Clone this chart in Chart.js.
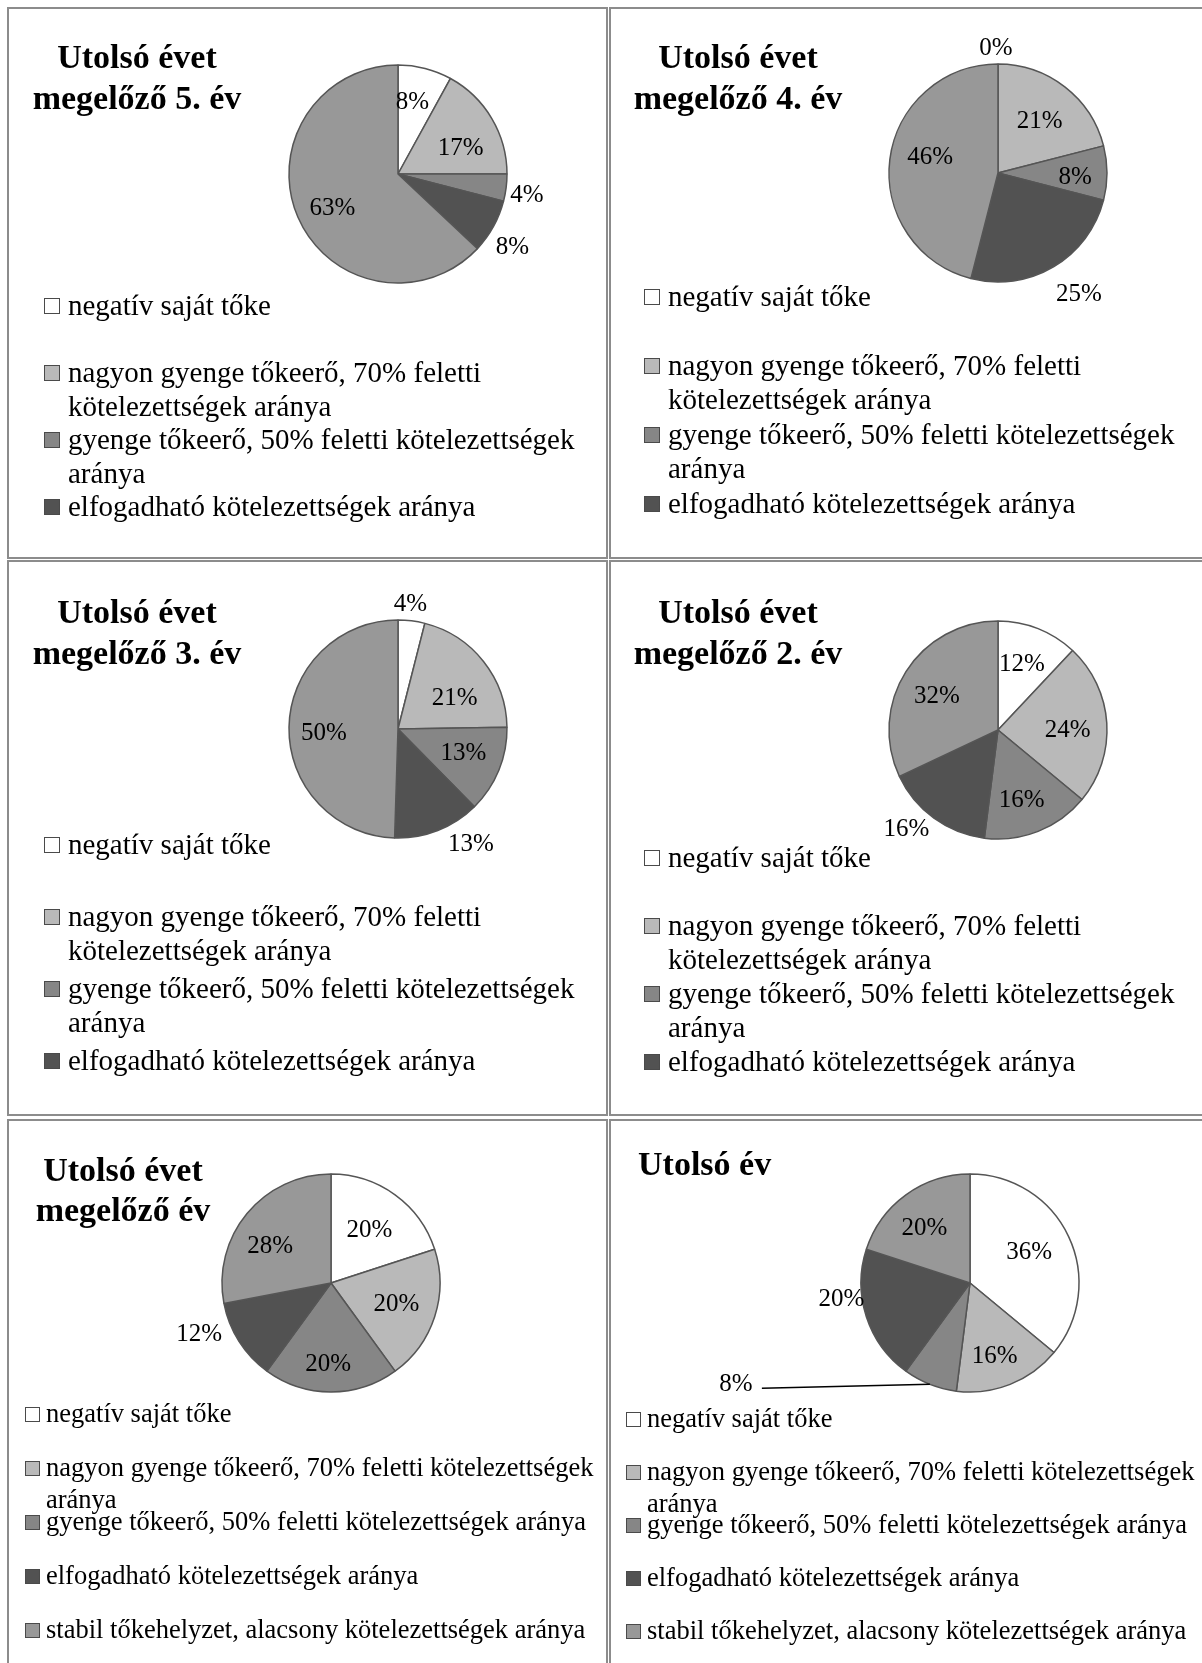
<!DOCTYPE html>
<html lang="hu">
<head>
<meta charset="utf-8">
<title>Tőkehelyzet megoszlása</title>
<script src="https://cdn.jsdelivr.net/npm/chart.js@4.4.1/dist/chart.umd.min.js"></script>
<style>
  html, body { margin: 0; padding: 0; background: #fff; }
  body { position: relative; width: 1202px; height: 1663px; overflow: hidden;
         font-family: "Liberation Serif", "Times New Roman", serif; color: #000; }
  .cell { position: absolute; box-sizing: border-box; border: 2px solid #8c8c8c; }
  canvas { position: absolute; }
  .title { position: absolute; font-weight: bold; font-size: 34px; white-space: nowrap; }
  .legend { position: absolute; }
  .item { display: flex; align-items: flex-start; overflow: visible; }
  .box { flex: none; box-sizing: border-box; border: 1px solid #4a4a4a; }
</style>
</head>
<body>
<div class="cell" style="left:7px;top:7px;width:601px;height:552px"></div>
<div class="cell" style="left:609px;top:7px;width:600px;height:552px"></div>
<div class="cell" style="left:7px;top:560px;width:601px;height:556px"></div>
<div class="cell" style="left:609px;top:560px;width:600px;height:556px"></div>
<div class="cell" style="left:7px;top:1119px;width:601px;height:560px"></div>
<div class="cell" style="left:609px;top:1119px;width:600px;height:560px"></div>

<script>
// categories (legend order = slice order, clockwise from 12 o'clock)
const categories = [
    'negatív saját tőke',
    'nagyon gyenge tőkeerő, 70% feletti kötelezettségek aránya',
    'gyenge tőkeerő, 50% feletti kötelezettségek aránya',
    'elfogadható kötelezettségek aránya',
    'stabil tőkehelyzet, alacsony kötelezettségek aránya'
]
const sliceColors = ['#ffffff', '#b9b9b9', '#868686', '#525252', '#989898']

// shares in %
const year5 = [8, 17, 4, 8, 63]
const year4 = [0, 21, 8, 25, 46]
const year3 = [4, 21, 13, 13, 50]
const year2 = [12, 24, 16, 16, 32]
const year1 = [20, 20, 20, 12, 28]
const lastYear = [36, 16, 8, 20, 20]

const titles = [
    ['Utolsó évet', 'megelőző 5. év'],
    ['Utolsó évet', 'megelőző 4. év'],
    ['Utolsó évet', 'megelőző 3. év'],
    ['Utolsó évet', 'megelőző 2. év'],
    ['Utolsó évet', 'megelőző év'],
    ['Utolsó év']
]

// draws "xx%" next to / inside every slice
const pctLabels = {
    id: 'pctLabels',
    afterDatasetsDraw(chart, args, opts) {
        const ctx = chart.ctx
        const values = chart.data.datasets[0].data
        const arcs = chart.getDatasetMeta(0).data
        ctx.save()
        ctx.font = opts.font
        ctx.fillStyle = '#000'
        ctx.textAlign = 'center'
        ctx.textBaseline = 'middle'
        arcs.forEach((arc, i) => {
            const p = opts.place[i]
            const { x, y, startAngle, endAngle, outerRadius } =
                arc.getProps(['x', 'y', 'startAngle', 'endAngle', 'outerRadius'], true)
            const mid = (startAngle + endAngle) / 2 + (p.da || 0) * Math.PI / 180
            let lx = x + Math.cos(mid) * outerRadius * p.r
            let ly = y + Math.sin(mid) * outerRadius * p.r
            if (p.leader) {
                const ex = lx, ey = ly
                lx = ex + p.leader
                ctx.beginPath()
                ctx.strokeStyle = '#000'
                ctx.lineWidth = 1.5
                ctx.moveTo(lx + 26, ly + 4)
                ctx.lineTo(ex, ey)
                ctx.stroke()
            }
            ctx.fillText(values[i] + '%', lx, ly)
        })
        ctx.restore()
    }
}

function createPanel(idx, values, cfg)
{
    const [cx0, cy0, cw, ch] = cfg.area
    const canvas = document.createElement('canvas')
    canvas.width = cw
    canvas.height = ch
    canvas.style.left = cx0 + 'px'
    canvas.style.top = cy0 + 'px'
    document.body.appendChild(canvas)

    const [px, py] = cfg.center
    const half = 120

    new Chart(canvas, {
        type: 'pie',
        data: {
            labels: categories,
            datasets: [{
                data: values,
                backgroundColor: sliceColors,
                borderColor: '#555555',
                borderWidth: 1.5,
                radius: 109
            }]
        },
        options: {
            responsive: false,
            animation: false,
            events: [],
            layout: {
                padding: {
                    left: px - cx0 - half,
                    right: cx0 + cw - px - half,
                    top: py - cy0 - half,
                    bottom: cy0 + ch - py - half
                }
            },
            plugins: {
                legend: { display: false },
                tooltip: { enabled: false },
                pctLabels: { font: '25px "Liberation Serif", serif', place: cfg.place }
            }
        },
        plugins: [pctLabels]
    })

    // title
    const t = document.createElement('div')
    t.className = 'title'
    t.style.lineHeight = cfg.title.lh + 'px'
    t.style.top = cfg.title.top + 'px'
    if (cfg.title.left !== undefined) {
        t.style.left = cfg.title.left + 'px'
    } else {
        t.style.left = (cfg.title.cx - 150) + 'px'
        t.style.width = '300px'
        t.style.textAlign = 'center'
    }
    t.innerHTML = titles[idx].join('<br>')
    document.body.appendChild(t)

    // legend
    const lg = cfg.legend
    const box = document.createElement('div')
    box.className = 'legend'
    box.style.left = lg.x + 'px'
    box.style.top = lg.top + 'px'
    box.style.fontSize = lg.size + 'px'
    box.style.lineHeight = lg.lh + 'px'
    categories.slice(0, lg.count).forEach((label, i) => {
        const item = document.createElement('div')
        item.className = 'item'
        item.style.height = lg.step + 'px'
        const sw = document.createElement('span')
        sw.className = 'box'
        sw.style.width = lg.box + 'px'
        sw.style.height = lg.box + 'px'
        sw.style.marginTop = ((lg.lh - lg.box) / 2 + 1) + 'px'
        sw.style.marginRight = lg.gap + 'px'
        sw.style.background = sliceColors[i]
        const txt = document.createElement('span')
        txt.style.width = lg.width + 'px'
        txt.textContent = label
        item.appendChild(sw)
        item.appendChild(txt)
        box.appendChild(item)
    })
    document.body.appendChild(box)
}

const leftLegend = { lh: 34, size: 29, width: 540, box: 16, gap: 8, count: 4 }
const lowLegend = { lh: 32, size: 26.5, width: 560, box: 15, gap: 6, count: 5 }

createPanel(0, year5, {
    area: [9, 9, 596, 548], center: [398, 174],
    title: { cx: 137, top: 36, lh: 41 },
    legend: { ...leftLegend, x: 44, top: 288, step: 67 },
    place: [{ r: .67, da: -3 }, { r: .62, da: 8.6 }, { r: 1.2, da: 2.4 }, { r: 1.25, da: 4 }, { r: .68, da: -4.5 }]
})
createPanel(1, year4, {
    area: [611, 9, 591, 548], center: [998, 173],
    title: { cx: 738, top: 36, lh: 41 },
    legend: { ...leftLegend, x: 644, top: 279, step: 69 },
    place: [{ r: 1.14, da: -1 }, { r: .61, da: 1 }, { r: .71, da: 3 }, { r: 1.34, da: -3 }, { r: .64, da: 6 }]
})
createPanel(2, year3, {
    area: [9, 562, 596, 552], center: [398, 729],
    title: { cx: 137, top: 591, lh: 41 },
    legend: { ...leftLegend, x: 44, top: 827, step: 72 },
    place: [{ r: 1.15, da: -1.4 }, { r: .59, da: 10 }, { r: .64, da: -2 }, { r: 1.25, da: -11 }, { r: .68, da: -4.4 }]
})
createPanel(3, year2, {
    area: [611, 562, 591, 552], center: [998, 730],
    title: { cx: 738, top: 591, lh: 41 },
    legend: { ...leftLegend, x: 644, top: 840, step: 68 },
    place: [{ r: .64, da: -1.6 }, { r: .64, da: 3.6 }, { r: .68, da: 3 }, { r: 1.24, da: 6.6 }, { r: .64, da: -3.4 }]
})
createPanel(4, year1, {
    area: [9, 1121, 596, 542], center: [331, 1283],
    title: { cx: 123, top: 1150, lh: 39.5 },
    legend: { ...lowLegend, x: 25, top: 1397, step: 54 },
    place: [{ r: .6, da: 0 }, { r: .63, da: 0 }, { r: .75, da: 2 }, { r: 1.3, da: 11 }, { r: .65, da: -8.6 }]
})
createPanel(5, lastYear, {
    area: [611, 1121, 591, 542], center: [970, 1283],
    title: { left: 638, top: 1144, lh: 40 },
    legend: { ...lowLegend, x: 626, top: 1402, step: 53 },
    place: [{ r: .61, da: -2 }, { r: .71, da: 3 }, { r: 1, leader: -194 }, { r: 1.19, da: 10.5 }, { r: .65, da: -4 }]
})
</script>
</body>
</html>
